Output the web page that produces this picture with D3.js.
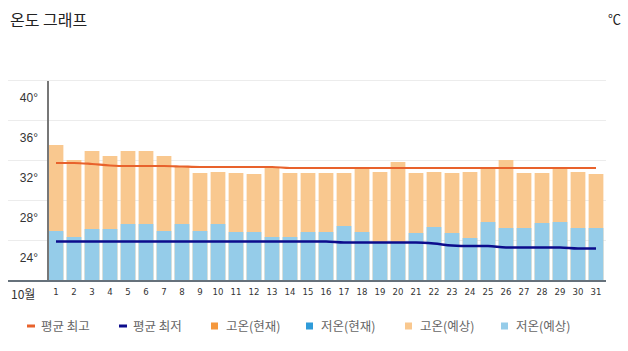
<!DOCTYPE html>
<html>
<head>
<meta charset="utf-8">
<script src="https://cdn.jsdelivr.net/npm/d3@7"></script>
<style>
body { margin: 0; background: #fff; }
svg { display: block; font-family: "Noto Sans CJK KR", "Noto Sans", sans-serif; }
</style>
</head>
<body>
<svg id="chart" width="628" height="351"></svg>
<script>
// october, daily values
var days = d3.range(1, 32);
var highs = [33.5, 32.0, 32.9, 32.4, 32.9, 32.9, 32.4, 31.3, 30.7, 30.8,
	30.7, 30.6, 31.2, 30.7, 30.7, 30.7, 30.7, 31.3, 30.8, 31.8,
	30.7, 30.8, 30.7, 30.8, 31.3, 32.0, 30.7, 30.7, 31.3, 30.8, 30.6];
var lows = [24.9, 24.3, 25.1, 25.1, 25.6, 25.6, 24.9, 25.6, 24.9, 25.6,
	24.8, 24.8, 24.3, 24.3, 24.8, 24.8, 25.4, 24.8, 23.8, 23.8,
	24.7, 25.3, 24.7, 24.2, 25.8, 25.2, 25.2, 25.7, 25.8, 25.2, 25.2];
var avgHigh = [31.7, 31.7, 31.6, 31.45, 31.4, 31.4, 31.4, 31.35, 31.3, 31.3,
	31.3, 31.3, 31.3, 31.2, 31.2, 31.2, 31.2, 31.2, 31.2, 31.2,
	31.2, 31.2, 31.2, 31.2, 31.2, 31.2, 31.2, 31.2, 31.2, 31.2, 31.2];
var avgLow = [23.85, 23.85, 23.85, 23.85, 23.85, 23.85, 23.85, 23.85, 23.85, 23.85,
	23.85, 23.85, 23.85, 23.85, 23.85, 23.85, 23.75, 23.75, 23.75, 23.75,
	23.75, 23.65, 23.45, 23.4, 23.4, 23.25, 23.25, 23.25, 23.25, 23.15, 23.15];
var yTicks = [24, 28, 32, 36, 40];
var legendItems = [
	{ name: '평균 최고', kind: 'line', color: '#e8622c' },
	{ name: '평균 최저', kind: 'line', color: '#0c0c8c' },
	{ name: '고온(현재)', kind: 'box', color: '#f5983d' },
	{ name: '저온(현재)', kind: 'box', color: '#2f9bd9' },
	{ name: '고온(예상)', kind: 'box', color: '#f9c88f' },
	{ name: '저온(예상)', kind: 'box', color: '#95cce9' }
];

var svg = d3.select('#chart');

var xscale = d3.scaleBand()
	.domain(days)
	.range([47, 605])
	.paddingInner(0.18)
	.paddingOuter(0.09);

var yscale = d3.scaleLinear()
	.domain([20, 40])
	.range([280, 80]);

// title
svg.append('text')
	.attr('x', 10).attr('y', 26)
	.attr('font-size', 16).attr('fill', '#222')
	.text('온도 그래프');
svg.append('text')
	.attr('x', 621).attr('y', 24)
	.attr('text-anchor', 'end')
	.attr('font-size', 13).attr('fill', '#222')
	.text('℃');

// grid + y labels
var yaxis = d3.axisLeft(yscale)
	.tickValues(yTicks)
	.tickSize(-(606 - 8))
	.tickFormat(d => d + '°');

var gy = svg.append('g')
	.attr('transform', 'translate(8,0)')
	.call(yaxis);
gy.select('.domain').remove();
gy.selectAll('.tick line').attr('stroke', '#ececec');
gy.selectAll('.tick text')
	.attr('x', 30)
	.attr('dy', 21)
	.attr('font-size', 12)
	.attr('fill', '#333')
	.attr('font-family', '"Liberation Sans", sans-serif');

// bars
svg.append('g').selectAll('rect')
	.data(days)
	.enter().append('rect')
	.attr('x', d => xscale(d))
	.attr('width', xscale.bandwidth())
	.attr('y', (d, i) => yscale(highs[i]))
	.attr('height', (d, i) => yscale(20) - yscale(highs[i]))
	.attr('fill', '#f9c88f');

svg.append('g').selectAll('rect')
	.data(days)
	.enter().append('rect')
	.attr('x', d => xscale(d))
	.attr('width', xscale.bandwidth())
	.attr('y', (d, i) => yscale(lows[i]))
	.attr('height', (d, i) => yscale(20) - yscale(lows[i]))
	.attr('fill', '#95cce9');

// average lines
var line = d3.line()
	.x((d, i) => xscale(days[i]) + xscale.bandwidth() / 2)
	.y(d => yscale(d))
	.curve(d3.curveMonotoneX);

svg.append('path')
	.datum(avgHigh)
	.attr('d', line)
	.attr('fill', 'none')
	.attr('stroke', '#e8622c')
	.attr('stroke-width', 2.2);

svg.append('path')
	.datum(avgLow)
	.attr('d', line)
	.attr('fill', 'none')
	.attr('stroke', '#0c0c8c')
	.attr('stroke-width', 2.5);

// axes lines
svg.append('line')
	.attr('x1', 48).attr('x2', 48)
	.attr('y1', 81).attr('y2', 281)
	.attr('stroke', '#777').attr('stroke-width', 2);
svg.append('line')
	.attr('x1', 8).attr('x2', 606)
	.attr('y1', 281).attr('y2', 281)
	.attr('stroke', '#66717b').attr('stroke-width', 2);

// x labels
var xaxis = d3.axisBottom(xscale).tickSize(0).tickPadding(0);
var gx = svg.append('g')
	.attr('transform', 'translate(0,288)')
	.call(xaxis);
gx.select('.domain').remove();
gx.selectAll('.tick text')
	.attr('font-size', 9.5)
	.attr('fill', '#333')
	.attr('font-family', '"DejaVu Sans Condensed", "DejaVu Sans", sans-serif');

svg.append('text')
	.attr('x', 11).attr('y', 299)
	.attr('font-size', 12).attr('fill', '#333')
	.text('10월');

// legend
var legendX = [26, 118, 211, 306, 405, 501];
var lg = svg.append('g').attr('transform', 'translate(0,326)');
legendItems.forEach(function(item, i) {
	var g = lg.append('g').attr('transform', 'translate(' + legendX[i] + ',0)');
	if (item.kind == 'line') {
		g.append('rect').attr('x', 1).attr('y', -1.5).attr('width', 8).attr('height', 3).attr('fill', item.color);
		g.append('text').attr('x', 15).attr('y', 4.5).attr('font-size', 12.5).attr('fill', '#666').text(item.name);
	}
	else {
		g.append('rect').attr('x', 0).attr('y', -3.5).attr('width', 7).attr('height', 7).attr('fill', item.color);
		g.append('text').attr('x', 15).attr('y', 4.5).attr('font-size', 12.5).attr('fill', '#666').text(item.name);
	}
});
</script>
</body>
</html>
